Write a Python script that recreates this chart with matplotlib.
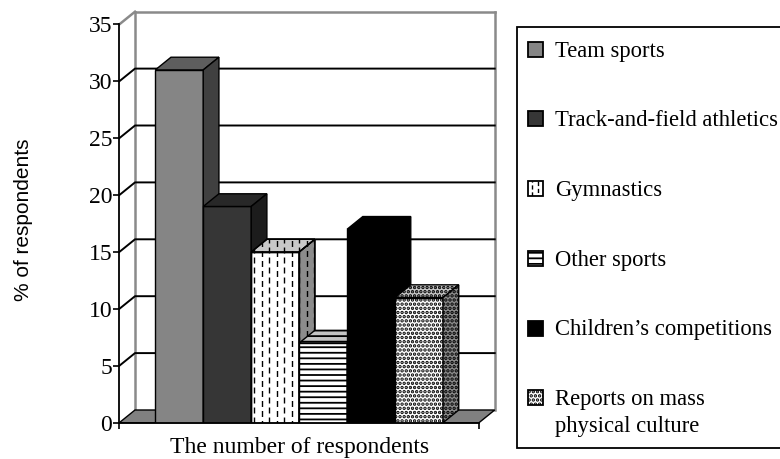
import numpy as np
import matplotlib.pyplot as plt
from matplotlib.patches import Polygon, Rectangle

categories = ["Team sports", "Track-and-field athletics", "Gymnastics",
              "Other sports", "Children\u2019s competitions",
              "Reports on mass\nphysical culture"]
values = [31, 19, 15, 7, 17, 11]
yticks = [0, 5, 10, 15, 20, 25, 30, 35]
xlabel = "The number of respondents"
ylabel = "% of respondents"

# front / top / side colours and fill pattern per series
front_cols = ["#858585", "#363636", "white", "white", "black", "white"]
top_cols = ["#5e5e5e", "#282828", "#c8c8c8", "#c4c4c4", "black", "#c8c8c8"]
side_cols = ["#404040", "#1c1c1c", "#8c8c8c", "#8c8c8c", "black", "#8c8c8c"]
patterns = [None, None, "dash", "---", None, "...."]
hatch_lw = [1.0, 1.0, 1.0, 1.3, 1.0, 1.7]

W, H = 780, 459
px_x = 47.96   # pixels per bar unit
px_y = 11.38   # pixels per % unit
gap = 0.75
dx = 15.7 / px_x
dy = 12.7 / px_y
xmax = gap * 2 + len(values)
ymax = yticks[-1]

serif = "Liberation Serif"

fig = plt.figure(figsize=(W / 100, H / 100), dpi=100)
ax = fig.add_axes([119.3 / W, (H - 422.7) / H, xmax * px_x / W, ymax * px_y / H])
ax.set_xlim(0, xmax)
ax.set_ylim(0, ymax)
ax.set_facecolor("none")

wall = "#8a8a8a"
# side wall and back wall edges
ax.plot([dx, dx], [dy, ymax + dy], color=wall, lw=1.8, clip_on=False, zorder=1)
ax.plot([xmax + dx, xmax + dx], [dy, ymax + dy], color=wall, lw=1.8, clip_on=False, zorder=1)
ax.plot([dx, xmax + dx], [ymax + dy, ymax + dy], color=wall, lw=1.8, clip_on=False, zorder=1)
ax.plot([0, dx], [ymax, ymax + dy], color=wall, lw=1.8, clip_on=False, zorder=1)
for v in yticks[1:-1]:
    ax.plot([0, dx, xmax + dx], [v, v + dy, v + dy], color="black", lw=1.4,
            clip_on=False, zorder=2)

# floor
ax.add_patch(Polygon([(0, 0), (xmax, 0), (xmax + dx, dy), (dx, dy)], closed=True,
                     facecolor="#808080", edgecolor="black", lw=1, zorder=3, clip_on=False))


def make_patch(cls, *args, i=0, **kw):
    hatch = patterns[i] if patterns[i] not in (None, "dash") else None
    with plt.rc_context({"hatch.linewidth": hatch_lw[i]}):
        p = cls(*args, hatch=hatch, **kw)
    if hasattr(p, "set_hatch_linewidth"):
        p.set_hatch_linewidth(hatch_lw[i])
    return p


def add_dashes(target, patch, x_lo, x_hi, y_lo, y_hi, z):
    step = 7.5 / px_x
    xs = np.arange(x_lo + 3 / px_x, x_hi, step)
    for k, xv in enumerate(xs):
        ln, = target.plot([xv, xv], [y_lo, y_hi], color="black", lw=1.0,
                          linestyle=(2.5 * (k % 2), (4.3, 2.9)),
                          zorder=z, dash_capstyle="butt")
        ln.set_clip_path(patch)


for i, v in enumerate(values):
    x0 = gap + i
    x1 = x0 + 1
    z = 5 + i
    faces = [
        ([(x0, 0), (x1, 0), (x1, v), (x0, v)], front_cols[i]),
        ([(x0, v), (x1, v), (x1 + dx, v + dy), (x0 + dx, v + dy)], top_cols[i]),
        ([(x1, 0), (x1 + dx, dy), (x1 + dx, v + dy), (x1, v)], side_cols[i]),
    ]
    for verts, col in faces:
        p = make_patch(Polygon, verts, i=i, closed=True, facecolor=col,
                       edgecolor="black", lw=1.0, zorder=z)
        ax.add_patch(p)
        if patterns[i] == "dash":
            add_dashes(ax, p, x0, x1 + dx, 0, v + dy, z + 0.05)
            ax.add_patch(Polygon(verts, closed=True, facecolor="none", edgecolor="black",
                                 lw=1.0, zorder=z + 0.1))

# axes
for s in ["top", "right"]:
    ax.spines[s].set_visible(False)
ax.spines["left"].set_bounds(0, ymax)
ax.spines["bottom"].set_bounds(0, xmax)
for s in ["left", "bottom"]:
    ax.spines[s].set_linewidth(1.3)
    ax.spines[s].set_zorder(20)
ax.set_yticks(yticks)
ax.set_yticklabels([str(t) for t in yticks], fontfamily=serif, fontsize=17)
ax.set_xticks([0, xmax])
ax.set_xticklabels([])
ax.tick_params(axis="y", direction="out", length=4, width=1.2, pad=1)
ax.tick_params(axis="x", direction="out", length=4.5, width=1.2)
ax.set_xlabel(xlabel, fontfamily=serif, fontsize=17, labelpad=2)

fig.text(24 / W, 1 - 220 / H, ylabel, rotation=90, ha="center", va="center",
         fontfamily="Liberation Sans", fontsize=15)

# legend box
tf = fig.transFigure
fig.add_artist(Rectangle((517 / W, (H - 448) / H), (820 - 517) / W, (448 - 27) / H,
                         transform=tf, facecolor="white", edgecolor="black", lw=1.3))
for i, lab in enumerate(categories):
    cy = 49.2 + i * 69.7
    fx, fy = 528 / W, (H - cy - 7.5) / H
    fw, fh = 15 / W, 15 / H
    sq = make_patch(Rectangle, (fx, fy), fw, fh, i=i, transform=tf,
                    facecolor=front_cols[i], edgecolor="black", lw=1.3)
    fig.add_artist(sq)
    if patterns[i] == "dash":
        for k, xx in enumerate([532, 537.5]):
            ln = plt.Line2D([xx / W, xx / W], [fy, fy + fh], transform=tf, color="black",
                            lw=1.0, linestyle=(2.5 * k, (3, 2)))
            ln.set_clip_path(sq)
            fig.add_artist(ln)
    for j, line in enumerate(lab.split("\n")):
        fig.text(555 / W, (H - (cy + 7.5 + j * 27)) / H, line, ha="left", va="baseline",
                 fontfamily=serif, fontsize=16.3)

fig.savefig("out.png", dpi=100)
